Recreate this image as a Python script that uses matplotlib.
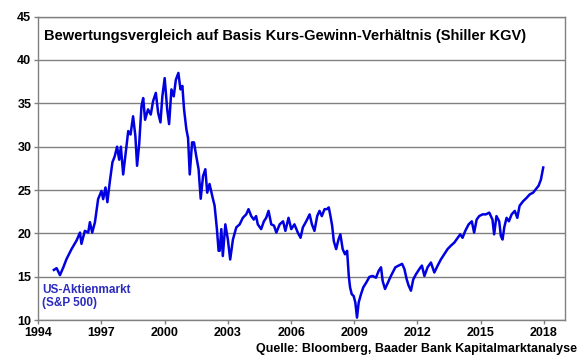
import numpy as np
import matplotlib
matplotlib.use("Agg")
import matplotlib.pyplot as plt

plt.rcParams['font.family'] = ['Liberation Sans', 'DejaVu Sans']

# Shiller KGV (S&P 500) (year as decimal)
years = [
    1994.74, 1994.87, 1995.03, 1995.19, 1995.34, 1995.58, 1995.82, 1995.98, 1996.05, 1996.21,
    1996.37, 1996.45, 1996.56, 1996.69, 1996.84, 1997.00, 1997.08, 1997.19, 1997.28, 1997.40,
    1997.52, 1997.63, 1997.74, 1997.84, 1997.92, 1998.03, 1998.16, 1998.27, 1998.38, 1998.50,
    1998.61, 1998.69, 1998.79, 1998.90, 1998.98, 1999.07, 1999.21, 1999.34, 1999.45, 1999.58,
    1999.69, 1999.80, 1999.89, 2000.00, 2000.12, 2000.21, 2000.32, 2000.43, 2000.53, 2000.65,
    2000.75, 2000.84, 2000.92, 2001.03, 2001.11, 2001.19, 2001.30, 2001.39, 2001.50, 2001.61,
    2001.71, 2001.82, 2001.93, 2002.02, 2002.13, 2002.26, 2002.37, 2002.48, 2002.56, 2002.61,
    2002.69, 2002.76, 2002.88, 2003.00, 2003.11, 2003.24, 2003.40, 2003.56, 2003.71, 2003.87,
    2003.98, 2004.11, 2004.23, 2004.34, 2004.42, 2004.58, 2004.71, 2004.82, 2004.93, 2005.06,
    2005.19, 2005.30, 2005.46, 2005.62, 2005.73, 2005.88, 2006.01, 2006.16, 2006.32, 2006.45,
    2006.56, 2006.72, 2006.88, 2006.99, 2007.11, 2007.24, 2007.35, 2007.46, 2007.59, 2007.71,
    2007.79, 2007.87, 2007.95, 2008.03, 2008.14, 2008.25, 2008.34, 2008.45, 2008.56, 2008.66,
    2008.74, 2008.80, 2008.88, 2008.97, 2009.05, 2009.13, 2009.21, 2009.32, 2009.43, 2009.56,
    2009.72, 2009.87, 2010.03, 2010.16, 2010.27, 2010.35, 2010.46, 2010.59, 2010.74, 2010.95,
    2011.11, 2011.27, 2011.38, 2011.49, 2011.58, 2011.69, 2011.80, 2011.93, 2012.09, 2012.21,
    2012.33, 2012.48, 2012.64, 2012.80, 2012.96, 2013.11, 2013.27, 2013.43, 2013.59, 2013.75,
    2013.91, 2014.03, 2014.14, 2014.27, 2014.43, 2014.58, 2014.69, 2014.81, 2014.93, 2015.09,
    2015.25, 2015.41, 2015.56, 2015.64, 2015.75, 2015.88, 2015.96, 2016.04, 2016.12, 2016.23,
    2016.34, 2016.47, 2016.62, 2016.74, 2016.85, 2017.01, 2017.18, 2017.33, 2017.49, 2017.62,
    2017.75, 2017.86, 2017.97,
]
kgv = [
    15.8, 16.0, 15.2, 16.1, 17.05, 18.2, 19.2, 20.1, 18.8, 20.3,
    20.1, 21.3, 20.1, 21.3, 23.95, 24.9, 23.95, 25.3, 23.6, 26.05,
    28.2, 28.9, 30.0, 28.5, 30.0, 26.8, 29.5, 31.8, 31.4, 33.5,
    31.2, 27.8, 30.3, 34.7, 35.6, 33.1, 34.3, 33.7, 35.25, 36.2,
    33.9, 32.8, 35.8, 37.9, 34.3, 32.6, 36.6, 35.8, 37.7, 38.5,
    36.6, 37.0, 34.3, 32.0, 31.0, 26.8, 30.5, 30.5, 28.9, 27.4,
    24.0, 26.6, 27.4, 24.7, 25.7, 24.3, 23.2, 20.5, 18.0, 18.0,
    20.5, 17.4, 21.05, 19.3, 17.0, 19.3, 20.7, 21.05, 21.8, 22.2,
    22.8, 22.0, 21.6, 22.0, 21.05, 20.5, 21.4, 21.8, 22.6, 21.05,
    20.9, 20.1, 21.05, 21.4, 20.3, 21.8, 20.5, 21.05, 20.1, 19.5,
    20.7, 21.4, 22.2, 21.05, 20.3, 22.0, 22.6, 22.0, 22.8, 22.8,
    23.0, 22.0, 20.9, 19.1, 18.2, 19.3, 19.9, 18.2, 17.6, 18.0,
    15.1, 13.8, 13.0, 12.8, 12.05, 10.3, 12.05, 13.0, 13.8, 14.3,
    15.0, 15.1, 14.9, 15.7, 16.1, 14.5, 13.6, 14.3, 15.1, 16.1,
    16.3, 16.5, 15.9, 14.7, 14.0, 13.4, 14.7, 15.3, 15.9, 16.3,
    15.1, 16.1, 16.65, 15.5, 16.3, 17.0, 17.6, 18.2, 18.6, 18.95,
    19.5, 19.9, 19.5, 20.3, 21.05, 21.4, 20.1, 21.6, 22.0, 22.2,
    22.2, 22.4, 21.6, 19.9, 22.0, 21.4, 19.7, 19.3, 20.7, 21.8,
    21.4, 22.2, 22.6, 21.8, 23.2, 23.7, 24.1, 24.5, 24.7, 25.1,
    25.5, 26.2, 27.6,
]

year_ticks = [1994, 1997, 2000, 2003, 2006, 2009, 2012, 2015, 2018]
kgv_ticks = [10, 15, 20, 25, 30, 35, 40, 45]

fig = plt.figure(figsize=(5.8, 3.59), dpi=100)
ax = fig.add_axes([0.066, 0.108, 0.908, 0.846])

ax.plot(years, kgv, color="#0000e0", linewidth=1.8, zorder=3)

ax.set_xlim(1994, 2019)
ax.set_ylim(10, 45)
ax.set_xticks(year_ticks)
ax.set_yticks(kgv_ticks)
ax.set_xticklabels([str(y) for y in year_ticks], fontsize=9, fontweight="bold")
ax.set_yticklabels([str(v) for v in kgv_ticks], fontsize=9, fontweight="bold")
ax.tick_params(axis="x", direction="out", length=3, width=1, color="#808080", pad=2)
ax.tick_params(axis="y", direction="out", length=3, width=1, color="#808080", pad=2)
ax.grid(axis="y", color="#808080", linewidth=1)
ax.set_axisbelow(True)
for s in ax.spines.values():
    s.set_color("#808080")
    s.set_linewidth(1)

ax.text(0.01, 0.96, "Bewertungsvergleich auf Basis Kurs-Gewinn-Verhältnis (Shiller KGV)",
        transform=ax.transAxes, ha="left", va="top", fontsize=10.5, fontweight="bold")
ax.text(0.007, 0.12, "US-Aktienmarkt\n(S&P 500)", transform=ax.transAxes, ha="left", va="top",
        fontsize=8.5, fontweight="bold", color="#2b2bbd", linespacing=1.15)

fig.text(0.995, 0.012, "Quelle: Bloomberg, Baader Bank Kapitalmarktanalyse",
         ha="right", va="bottom", fontsize=9, fontweight="bold")

plt.savefig("out.png", dpi=100)
